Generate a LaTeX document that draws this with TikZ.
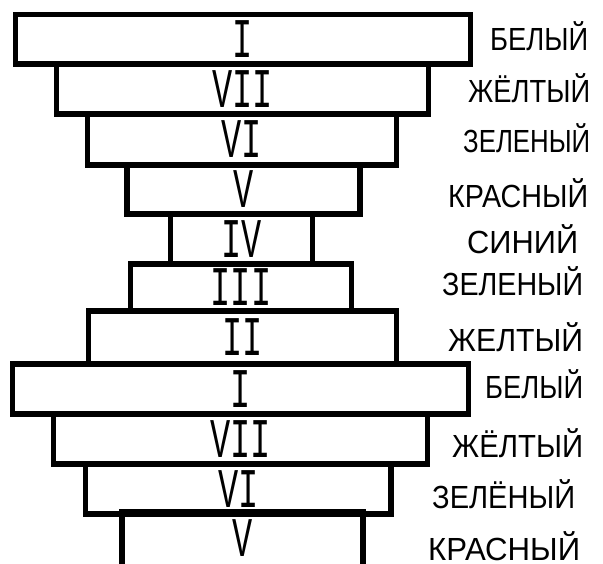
\documentclass[tikz,border=0pt]{standalone}
\usepackage{fontspec}
\usepackage{graphicx}
\newfontfamily\romfont{Liberation Mono}
\newfontfamily\lblfont{Liberation Sans}
\newcommand{\rn}[1]{\scalebox{0.6}[1]{#1}}
\newcommand{\lw}[2]{\resizebox{#1pt}{\height}{#2}}
\tikzset{
  tier/.style={draw=black, line width=5.5pt, rectangle, inner sep=0pt,
    font=\romfont\fontsize{56}{56}\selectfont},
  lbl/.style={anchor=base west, inner sep=0pt,
    font=\lblfont\fontsize{32}{32}\selectfont}
}
\begin{document}
\begin{tikzpicture}[x=1pt,y=-1pt]
\fill[white] (0,0) rectangle (603,563);
\useasboundingbox (0,0) rectangle (603,563);
% tiers
\node[tier, minimum width=455pt, minimum height=49.5pt] (t1) at (243,39.25) {\rn{I}};
\node[tier, minimum width=372pt, minimum height=50pt] (t2) at (242.5,89) {\rn{VII}};
\node[tier, minimum width=309pt, minimum height=51pt] (t3) at (242,139.5) {\rn{VI}};
\node[tier, minimum width=233pt, minimum height=49pt] (t4) at (243.5,189.5) {\rn{V}};
\node[tier, minimum width=142pt, minimum height=50pt] (t5) at (241.5,239) {\rn{IV}};
\node[tier, minimum width=221pt, minimum height=47pt] (t6) at (241,287.5) {\rn{III}};
\node[tier, minimum width=308pt, minimum height=53pt] (t7) at (242.5,337.5) {\rn{II}};
\node[tier, minimum width=456pt, minimum height=50pt] (t8) at (240.5,389) {\rn{I}};
\node[tier, minimum width=374pt, minimum height=50pt] (t9) at (240.5,439) {\rn{VII}};
\node[tier, minimum width=305.5pt, minimum height=50pt] (t10) at (238.25,489) {\rn{VI}};
% bottom tier, cut off by the lower edge
\node[tier, draw=none, minimum width=235.5pt, minimum height=49pt] (t11) at (242.25,538.5) {\rn{V}};
\draw[line width=5.5pt] (t11.south west) -- (t11.north west) -- (t11.north east) -- (t11.south east);
% labels
\node[lbl] (l1) at (490,50) {\lw{98}{БЕЛЫЙ}};
\node[lbl] (l2) at (468,102) {\lw{122}{ЖЁЛТЫЙ}};
\node[lbl] (l3) at (463,152) {\lw{127}{ЗЕЛЕНЫЙ}};
\node[lbl] (l4) at (448,207) {\lw{140}{КРАСНЫЙ}};
\node[lbl] (l5) at (467,253) {\lw{111}{СИНИЙ}};
\node[lbl] (l6) at (442,295) {\lw{141}{ЗЕЛЕНЫЙ}};
\node[lbl] (l7) at (448,351) {\lw{135}{ЖЕЛТЫЙ}};
\node[lbl] (l8) at (485,398) {\lw{98}{БЕЛЫЙ}};
\node[lbl] (l9) at (452,457) {\lw{131}{ЖЁЛТЫЙ}};
\node[lbl] (l10) at (432,508) {\lw{143}{ЗЕЛЁНЫЙ}};
\node[lbl] (l11) at (428,560) {\lw{152}{КРАСНЫЙ}};
\end{tikzpicture}
\end{document}
